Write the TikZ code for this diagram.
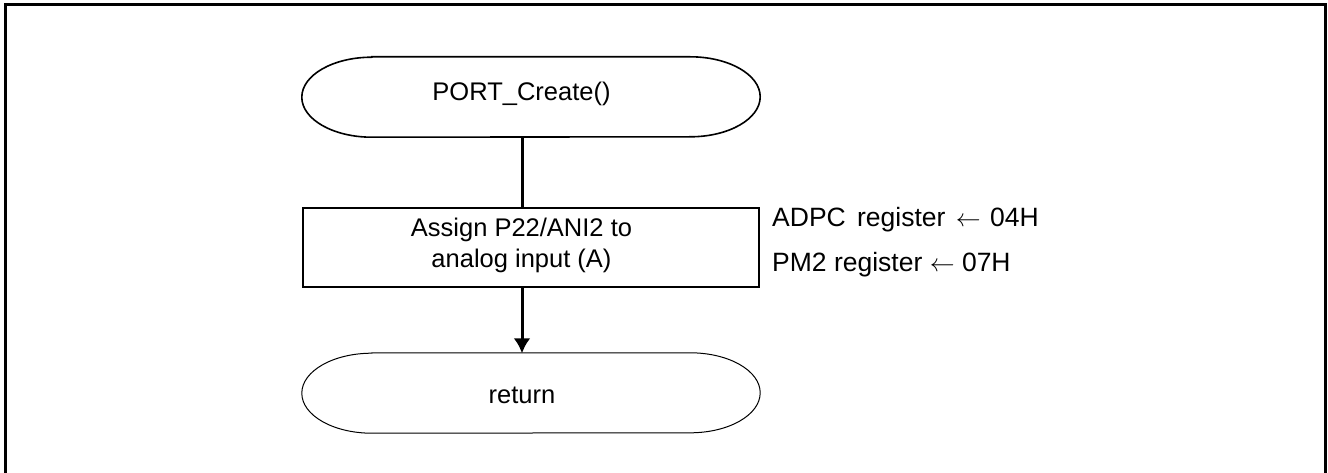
\documentclass[tikz,border=0pt]{standalone}
\usepackage{fontspec}
\setmainfont{Liberation Sans}
\usetikzlibrary{arrows.meta}
\begin{document}
\begin{tikzpicture}[x=1pt,y=-1pt,
  txt/.style={font=\fontsize{25.5}{31}\selectfont, inner sep=0pt},
  sidetxt/.style={font=\fontsize{26.5}{30}\selectfont, inner sep=0pt, anchor=base west},
  termshape/.style={minimum width=458pt, minimum height=80pt, inner sep=0pt},
  procbox/.style={draw, line width=2pt, minimum width=456pt, minimum height=79pt, inner sep=0pt},
  conn/.style={line width=3pt},
  frame/.style={line width=3pt}
]
\useasboundingbox (0,0) rectangle (1328,473);
% frame (open at bottom)
\draw[frame] (5,473) -- (5,4.5) -- (1325,4.5) -- (1325,473);

\coordinate (cx) at (522,0);

% top terminal
\node[termshape] (start) at (531,97) {};
\draw[line width=1.6pt] ([xshift=70pt]start.north west) -- ([xshift=-70pt]start.north east)
  arc[start angle=90, end angle=-90, x radius=70pt, y radius=40pt]
  -- ([xshift=70pt]start.south west)
  arc[start angle=270, end angle=90, x radius=70pt, y radius=40pt] -- cycle;
\node[txt, anchor=base] (starttxt) at (521.5,101) {PORT\_Create()};

% process box
\node[procbox] (proc) at (531,247.5) {};
\node[txt, align=center, anchor=base] (proctxt) at (521.5,267) {Assign P22/ANI2 to\\analog input (A)};

% side notes
\node[sidetxt] (adpc) at (772,227) {ADPC\hspace{4pt} register\hspace{3pt} $\leftarrow$\hspace{2pt} 04H};
\node[sidetxt] (pm2) at (772,272) {PM2 register $\leftarrow$ 07H};

% return terminal
\node[termshape] (ret) at (531,393) {};
\draw[line width=1pt] ([xshift=70pt]ret.north west) -- ([xshift=-70pt]ret.north east)
  arc[start angle=90, end angle=-90, x radius=70pt, y radius=40pt]
  -- ([xshift=70pt]ret.south west)
  arc[start angle=270, end angle=90, x radius=70pt, y radius=40pt] -- cycle;
\node[txt, anchor=base] (rettxt) at (522,403) {return};

% connectors
\draw[conn] (start.south -| cx) -- (proc.north -| cx);
\draw[conn, -{Latex[length=15pt,width=17pt]}, shorten >=-0.5pt] (proc.south -| cx) -- (ret.north -| cx);
\end{tikzpicture}
\end{document}
